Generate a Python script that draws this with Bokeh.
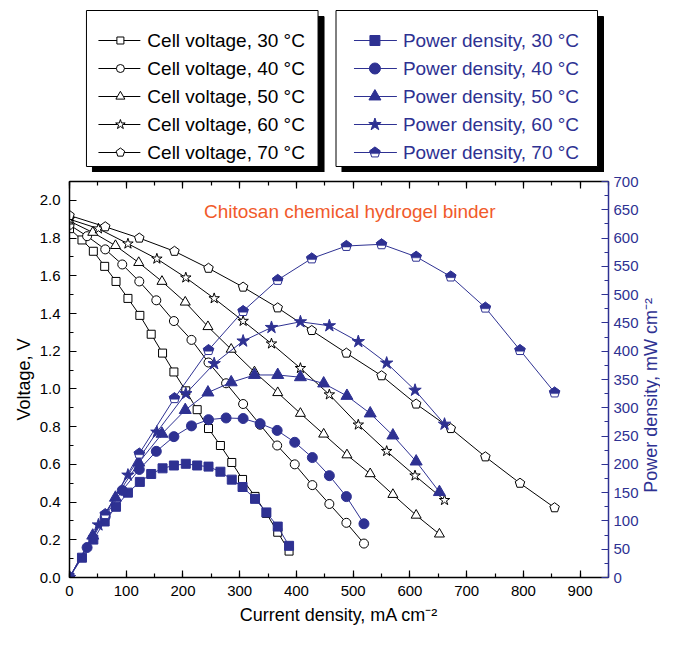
import math
import numpy as np
from bokeh.plotting import figure
from bokeh.models import Range1d, LinearAxis, SingleIntervalTicker, NumeralTickFormatter, Label, GridBox
from bokeh.embed import file_html
from bokeh.resources import INLINE
from bokeh.core.properties import value

FONT = "Liberation Sans"
BLUE = "#2E3192"
ORANGE = "#F15A2B"

# ---------------- data ----------------
I30 = [0, 22, 42, 62, 82, 103, 124, 144, 164, 184, 205, 225, 245, 266, 286, 305, 327, 347, 367, 387]
V30 = [1.85, 1.79, 1.73, 1.65, 1.57, 1.48, 1.39, 1.29, 1.19, 1.09, 0.99, 0.89, 0.79, 0.70, 0.61, 0.52, 0.43, 0.34, 0.24, 0.14]
P30 = [0, 35, 67, 99, 125, 150, 169, 183, 193, 198, 201, 198, 196, 187, 173, 160, 139, 115, 90, 56]

I40 = [0, 31, 63, 93, 123, 153, 184, 215, 245, 276, 306, 336, 366, 397, 428, 458, 488, 519]
V40 = [1.87, 1.81, 1.74, 1.66, 1.57, 1.47, 1.36, 1.26, 1.14, 1.03, 0.92, 0.81, 0.70, 0.60, 0.49, 0.39, 0.29, 0.18]
P40 = [0, 53, 108, 154, 191, 223, 249, 268, 279, 282, 281, 272, 260, 239, 212, 180, 143, 95]

I50 = [0, 41, 81, 122, 163, 204, 244, 285, 326, 367, 407, 448, 489, 530, 570, 611, 652]
V50 = [1.89, 1.83, 1.76, 1.67, 1.57, 1.46, 1.33, 1.21, 1.09, 0.98, 0.87, 0.76, 0.65, 0.55, 0.44, 0.33, 0.23]
P50 = [0, 74, 141, 203, 254, 296, 327, 345, 358, 358, 354, 343, 321, 290, 251, 205, 151]

I60 = [0, 51, 103, 154, 205, 255, 306, 356, 407, 458, 509, 559, 609, 661]
V60 = [1.90, 1.85, 1.77, 1.69, 1.59, 1.48, 1.36, 1.24, 1.11, 0.97, 0.81, 0.67, 0.54, 0.41]
P60 = [0, 93, 181, 257, 325, 378, 418, 442, 452, 445, 417, 379, 331, 271]

I70 = [0, 63, 123, 185, 245, 306, 367, 427, 488, 550, 611, 672, 733, 794, 855]
V70 = [1.92, 1.86, 1.80, 1.73, 1.64, 1.54, 1.43, 1.31, 1.19, 1.07, 0.92, 0.79, 0.64, 0.50, 0.37]
P70 = [0, 112, 219, 317, 402, 471, 526, 564, 586, 589, 567, 532, 477, 402, 327]

TEMPS = ["30", "40", "50", "60", "70"]
MARKERS = ["square", "circle", "triangle", "star", "pentagon"]
LEG_V = [f"Cell voltage, {t} °C" for t in TEMPS]
LEG_P = [f"Power density, {t} °C" for t in TEMPS]
X_TITLE = "Current density, mA cm⁻²"
Y_TITLE = "Voltage, V"
Y2_TITLE = "Power density, mW cm⁻²"
NOTE = "Chitosan chemical hydrogel binder"

SERIES = [(I30, V30, P30), (I40, V40, P40), (I50, V50, P50), (I60, V60, P60), (I70, V70, P70)]

# ---------------- layout constants ----------------
TW = 19                     # strip that holds the right-hand axis title
W = 660 - TW                # width of chart / legend column
LEG_H = 172
MAIN_H = 457
FL, FR, FT, FB = 69, 32, 9, 52
FW = W - FL - FR
FH = MAIN_H - FT - FB
XMAX, VMAX, PMAX = 950, 2.1, 700

SIZE_V = {"square": 8, "circle": 9, "triangle": 10, "star": 11, "pentagon": 10}
SIZE_P = {"square": 9, "circle": 10, "triangle": 12, "star": 13, "pentagon": 11}
LSIZE_V = {"square": 7, "circle": 8, "triangle": 9, "star": 10, "pentagon": 9}
LSIZE_P = {"square": 10, "circle": 11, "triangle": 12, "star": 13, "pentagon": 11}

ang = np.deg2rad([90, 162, 234, 306, 18])
PENT_UX, PENT_UY = np.cos(ang), np.sin(ang)
CAP_UX = np.array([0.0, -0.951, -0.786, 0.786, 0.951])
CAP_UY = np.array([1.0, 0.309, -0.2, -0.2, 0.309])


def shapes(xs, ys, r, kx, ky, ux, uy):
    px = [list(x + r * ux / kx) for x in xs]
    py = [list(y + r * uy / ky) for y in ys]
    return px, py


# ---------------- main chart ----------------
p = figure(width=W, height=MAIN_H, x_range=Range1d(0, XMAX), y_range=Range1d(0, VMAX),
           output_backend="svg", toolbar_location=None, x_axis_type=None, y_axis_type=None,
           min_border_left=FL, min_border_right=FR, min_border_top=FT, min_border_bottom=FB,
           outline_line_color=None, background_fill_color="white", border_fill_color="white")
p.extra_y_ranges = {"pd": Range1d(0, PMAX)}


def style_axis(ax, color):
    ax.axis_line_color = color
    ax.axis_line_width = 1.5
    ax.major_tick_line_color = color
    ax.minor_tick_line_color = color
    ax.major_tick_line_width = 1.2
    ax.minor_tick_line_width = 1.2
    ax.major_tick_in = 7
    ax.major_tick_out = 0
    ax.minor_tick_in = 4
    ax.minor_tick_out = 0
    ax.major_label_text_font = FONT
    ax.major_label_text_font_size = "15px"
    ax.major_label_text_color = color
    ax.axis_label_text_font = FONT
    ax.axis_label_text_font_size = "18px"
    ax.axis_label_text_color = color
    ax.axis_label_text_font_style = "normal"


xb = LinearAxis(ticker=SingleIntervalTicker(interval=100, num_minor_ticks=2), axis_label=X_TITLE)
style_axis(xb, "black")
xb.major_label_standoff = 8
xb.axis_label_standoff = 6
p.add_layout(xb, "below")

xt = LinearAxis(ticker=SingleIntervalTicker(interval=100, num_minor_ticks=2))
style_axis(xt, "black")
xt.major_label_text_font_size = "0px"
xt.major_label_text_color = None
xt.major_label_standoff = 0
p.add_layout(xt, "above")

yl = LinearAxis(ticker=SingleIntervalTicker(interval=0.2, num_minor_ticks=2),
                formatter=NumeralTickFormatter(format="0.0"), axis_label=Y_TITLE)
style_axis(yl, "black")
yl.major_label_standoff = 9
yl.axis_label_standoff = 3
p.add_layout(yl, "left")

yr = LinearAxis(y_range_name="pd", ticker=SingleIntervalTicker(interval=50, num_minor_ticks=2))
style_axis(yr, BLUE)
yr.major_label_standoff = 5
p.add_layout(yr, "right")

kx = FW / XMAX
kv = FH / VMAX
kp = FH / PMAX

# voltage curves
for (I, V, P), m in zip(SERIES, MARKERS):
    p.line(I, V, line_color="black", line_width=1)
    if m == "pentagon":
        px, py = shapes(I, V, SIZE_V[m] / 2, kx, kv, PENT_UX, PENT_UY)
        p.patches(px, py, fill_color="white", line_color="black", line_width=1)
    else:
        p.scatter(I, V, marker=m, size=SIZE_V[m], fill_color="white", line_color="black", line_width=1)

# power curves
for (I, V, P), m in zip(SERIES, MARKERS):
    p.line(I, P, line_color=BLUE, line_width=1, y_range_name="pd")
    if m == "pentagon":
        px, py = shapes(I, P, SIZE_P[m] / 2, kx, kp, PENT_UX, PENT_UY)
        p.patches(px, py, fill_color="white", line_color=BLUE, line_width=1, y_range_name="pd")
        cx, cy = shapes(I, P, SIZE_P[m] / 2, kx, kp, CAP_UX, CAP_UY)
        p.patches(cx, cy, fill_color=BLUE, line_color=BLUE, line_width=0.5, y_range_name="pd")
    else:
        p.scatter(I, P, marker=m, size=SIZE_P[m], fill_color=BLUE, line_color=BLUE, line_width=1,
                  y_range_name="pd")

p.add_layout(Label(x=237, y=1.943, text=NOTE, text_font=FONT, text_font_size="19px",
                   text_color=ORANGE, text_baseline="middle", text_align="left"))

# ---------------- right-hand axis title strip (same frame rows as the chart) ----------------
t = figure(width=TW, height=MAIN_H, x_range=Range1d(0, TW), y_range=Range1d(0, FH),
           output_backend="svg", toolbar_location=None, x_axis_type=None, y_axis_type=None,
           min_border_left=0, min_border_right=0, min_border_top=FT, min_border_bottom=FB,
           outline_line_color=None, background_fill_color="white", border_fill_color="white")
t.text(x=[TW / 2], y=[FH * 0.46], text=[Y2_TITLE], angle=math.pi / 2, text_font=value(FONT),
       text_font_size=value("18px"), text_color=BLUE, text_align="center", text_baseline="middle")

# ---------------- legend panel (same frame width as the chart; x in page pixels) ----------------
lg = figure(width=W, height=LEG_H, x_range=Range1d(FL, FL + FW), y_range=Range1d(LEG_H, 0),
            output_backend="svg", toolbar_location=None, x_axis_type=None, y_axis_type=None,
            min_border_left=FL, min_border_right=FR, min_border_top=0, min_border_bottom=0,
            outline_line_color=None, background_fill_color="white", border_fill_color="white")

ROWS = [40, 68, 96, 124, 152]
BOXES = [
    dict(left=86, right=318, line0=98, line1=140, mx=120, tx=147, color="black", fill="white",
         labels=LEG_V, sizes=LSIZE_V),
    dict(left=336, right=598, line0=354, line1=397, mx=375, tx=403, color=BLUE, fill=BLUE,
         labels=LEG_P, sizes=LSIZE_P),
]
for b in BOXES:
    lg.quad(left=b["left"] + 6, right=b["right"] + 6, top=16, bottom=172, fill_color="black",
            line_color="black")
    lg.quad(left=b["left"], right=b["right"], top=10, bottom=166, fill_color="white",
            line_color="black", line_width=1)
    lg.segment(x0=[b["line0"]] * 5, x1=[b["line1"]] * 5, y0=ROWS, y1=ROWS,
               line_color=b["color"], line_width=1)
    for yrow, m in zip(ROWS, MARKERS):
        s = b["sizes"][m]
        if m == "pentagon":
            px, py = shapes([b["mx"]], [yrow], s / 2, 1.0, -1.0, PENT_UX, PENT_UY)
            lg.patches(px, py, fill_color="white", line_color=b["color"], line_width=1)
            if b["fill"] != "white":
                cx, cy = shapes([b["mx"]], [yrow], s / 2, 1.0, -1.0, CAP_UX, CAP_UY)
                lg.patches(cx, cy, fill_color=b["fill"], line_color=b["fill"], line_width=0.5)
        else:
            lg.scatter([b["mx"]], [yrow], marker=m, size=s, fill_color=b["fill"],
                       line_color=b["color"], line_width=1)
    lg.text(x=[b["tx"]] * 5, y=ROWS, text=b["labels"], text_font=value(FONT),
            text_font_size=value("19px"), text_color=b["color"], text_baseline="middle",
            text_align="left")

layout = GridBox(children=[(lg, 0, 0), (p, 1, 0), (t, 1, 1)], spacing=0)
open("out.html", "w").write(file_html(layout, INLINE))
